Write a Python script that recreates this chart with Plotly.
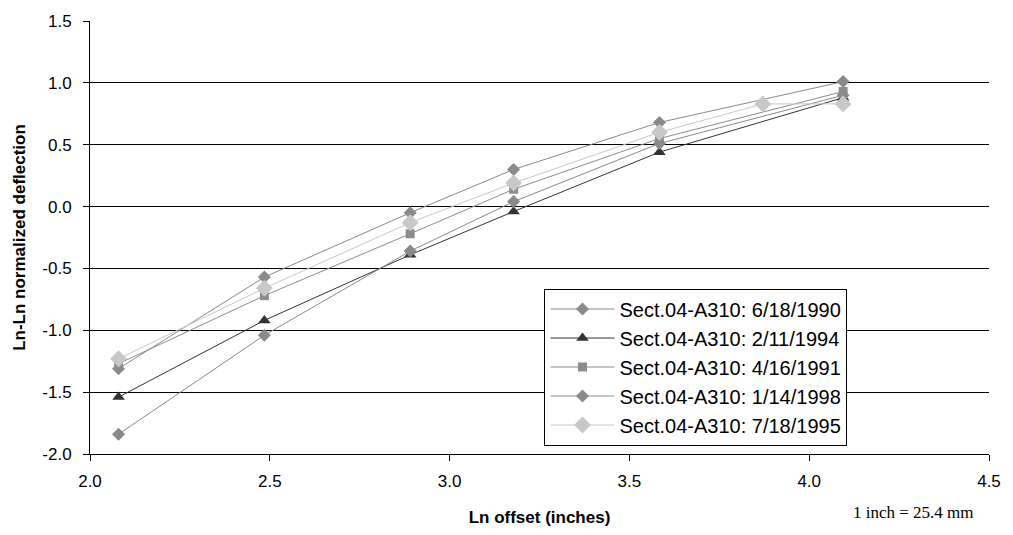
import math
import plotly.graph_objects as go

offset_in = [8, 12, 18, 24, 36, 60]
offset_in_9505 = [8, 12, 18, 24, 36, 48, 60]

ln_x = [math.log(v) for v in offset_in]
ln_x_9505 = [math.log(v) for v in offset_in_9505]

names = ["Sect.04-A310: 6/18/1990", "Sect.04-A310: 2/11/1994", "Sect.04-A310: 4/16/1991",
         "Sect.04-A310: 1/14/1998", "Sect.04-A310: 7/18/1995"]
s_1990 = [-1.31, -0.57, -0.05, 0.30, 0.68, 1.01]
s_1994 = [-1.54, -0.92, -0.39, -0.04, 0.44, 0.88]
s_1991 = [-1.27, -0.72, -0.22, 0.14, 0.55, 0.93]
s_1998 = [-1.84, -1.04, -0.36, 0.04, 0.51, 0.90]
s_1995 = [-1.23, -0.66, -0.13, 0.19, 0.60, 0.83, 0.83]

x_ticks = [2.0, 2.5, 3.0, 3.5, 4.0, 4.5]
x_tick_text = ["2.0", "2.5", "3.0", "3.5", "4.0", "4.5"]
y_ticks = [-2.0, -1.5, -1.0, -0.5, 0.0, 0.5, 1.0, 1.5]
y_tick_text = ["-2.0", "-1.5", "-1.0", "-0.5", "0.0", "0.5", "1.0", "1.5"]

colors = ["#8a8a8a", "#333333", "#8c8c8c", "#8a8a8a", "#c8c8c8"]
symbols = ["diamond", "triangle-up", "square", "diamond", "diamond"]
sizes = [10, 11, 9, 10, 13]

fig = go.Figure()
series = [(ln_x, s_1990), (ln_x, s_1994), (ln_x, s_1991), (ln_x, s_1998), (ln_x_9505, s_1995)]
for i, (xs, ys) in enumerate(series):
    fig.add_trace(go.Scatter(
        x=xs, y=ys, mode="lines+markers", name=names[i],
        line=dict(color=colors[i], width=1),
        marker=dict(symbol=symbols[i], size=sizes[i], color=colors[i]),
    ))

L, R, T, B = 90, 990, 19, 456
W, H = 1013, 535
fig.update_layout(
    width=W, height=H,
    margin=dict(l=L, r=W - R, t=T, b=H - B),
    plot_bgcolor="white", paper_bgcolor="white",
    font=dict(family="Liberation Sans, Arial, sans-serif", size=17, color="black"),
    showlegend=True,
    legend=dict(
        x=(545 - L) / (R - L), y=(B - 289) / (B - T), xanchor="left", yanchor="top",
        bgcolor="white", bordercolor="black", borderwidth=1,
        font=dict(size=20, color="black"),
        itemwidth=64,
        tracegroupgap=0,
    ),
    xaxis=dict(
        range=[2.0, 4.5], tickvals=x_ticks, ticktext=x_tick_text,
        showgrid=False, zeroline=False,
        showline=True, linecolor="black", linewidth=1,
        ticks="outside", ticklen=6, tickcolor="black", ticklabelstandoff=6,
        tickfont=dict(size=17),
        title=dict(text="<b>Ln offset (inches)</b>", font=dict(size=17), standoff=20),
    ),
    yaxis=dict(
        range=[-2.0, 1.5], tickvals=y_ticks, ticktext=y_tick_text,
        showgrid=True, gridcolor="black", gridwidth=1, zeroline=False,
        showline=True, linecolor="black", linewidth=1,
        ticks="outside", ticklen=6, tickcolor="black", ticklabelstandoff=8,
        tickfont=dict(size=17),
        title=dict(text="<b>Ln-Ln normalized deflection</b>", font=dict(size=17), standoff=12),
    ),
    annotations=[dict(
        text="1 inch = 25.4 mm",
        x=(914 - L) / (R - L), y=(B - 515) / (B - T), xref="paper", yref="paper",
        xanchor="center", yanchor="middle",
        showarrow=False,
        font=dict(family="Liberation Serif, Times New Roman, serif", size=17),
    )],
)

fig.write_html("out.html", config={"displayModeBar": False},
               post_script="document.body.style.margin='0';")
